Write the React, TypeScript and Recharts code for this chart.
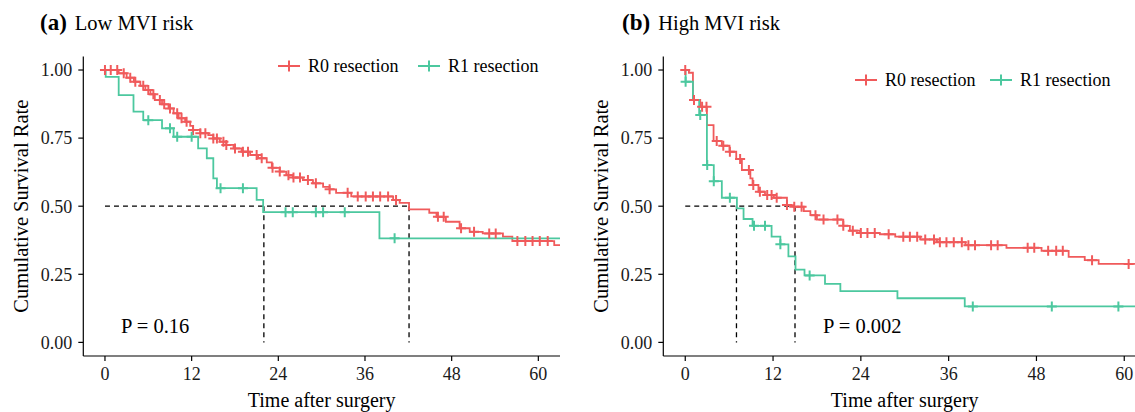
import { LineChart, Line, XAxis, YAxis, ReferenceLine } from "recharts";

const FONT = "'Liberation Serif', 'Times New Roman', serif";
const RED = "#F05A5B";
const GREEN = "#4CC89F";

const groups = ["R0 resection", "R1 resection"];
const monthTicks = [0, 12, 24, 36, 48, 60];
const rateTicks = [0, 0.25, 0.5, 0.75, 1];

// (a) Low MVI risk
const lowR0Time = [0, 1.9, 3.0, 4.0, 4.9, 5.6, 6.3, 6.9, 7.9, 8.8, 9.5, 10.2, 11.1, 11.8, 12.2, 13.2, 14.3, 15.0, 15.9, 16.8, 17.8, 18.9, 20.1, 21.2, 22.4, 23.1, 24.2, 25.1, 26.0, 27.4, 28.8, 30.2, 31.1, 32.0, 34.1, 39.9, 40.8, 42.1, 44.9, 45.9, 47.2, 49.1, 50.5, 52.3, 55.1, 56.4, 62.2, 63];
const lowR0Surv = [1.0, 0.988, 0.972, 0.957, 0.942, 0.927, 0.911, 0.89, 0.874, 0.859, 0.841, 0.823, 0.81, 0.795, 0.78, 0.768, 0.761, 0.749, 0.737, 0.725, 0.712, 0.7, 0.688, 0.676, 0.661, 0.641, 0.627, 0.614, 0.605, 0.596, 0.584, 0.571, 0.562, 0.549, 0.536, 0.523, 0.512, 0.488, 0.476, 0.461, 0.443, 0.419, 0.406, 0.4, 0.388, 0.372, 0.357, 0.357];
const lowR0Censor = [0, 0.8, 1.7, 2.6, 3.5, 4.2, 5.3, 6.0, 6.7, 7.6, 8.2, 9.0, 10.0, 10.6, 11.3, 12.2, 13.2, 13.9, 15.0, 15.5, 16.4, 16.8, 18.0, 19.1, 19.8, 21.0, 21.7, 23.2, 24.2, 25.4, 26.1, 27.0, 28.1, 29.2, 31.1, 33.6, 35.0, 36.1, 37.1, 38.1, 39.2, 40.3, 46.1, 46.9, 49.3, 51.1, 53.2, 54.1, 57.1, 58.2, 59.2, 60.2, 61.3];

const lowR1Time = [0, 0.1, 1.9, 3.95, 5.3, 7.9, 9.5, 12.9, 14.1, 15.0, 15.5, 21.0, 21.9, 38.0, 63];
const lowR1Surv = [1.0, 0.975, 0.908, 0.847, 0.816, 0.786, 0.755, 0.712, 0.676, 0.602, 0.566, 0.523, 0.478, 0.382, 0.382];
const lowR1Censor = [6.0, 9.0, 10.0, 12.0, 16.0, 19.1, 25.0, 26.0, 29.2, 30.2, 33.2, 40.1];

const lowMedians = [22, 42.1];

// (b) High MVI risk
const highR0Time = [0, 0.5, 1.05, 2.05, 2.96, 3.87, 5.0, 6.05, 6.97, 7.74, 8.9, 9.2, 10.0, 10.9, 12.1, 13.9, 14.8, 16.2, 17.1, 18.0, 21.6, 22.5, 23.9, 26.6, 28.7, 32.1, 34.4, 38.3, 43.9, 48.7, 52.4, 54.6, 56.5, 63];
const highR0Surv = [1.0, 0.99, 0.89, 0.865, 0.798, 0.739, 0.722, 0.7, 0.673, 0.633, 0.602, 0.578, 0.553, 0.541, 0.531, 0.504, 0.498, 0.482, 0.467, 0.451, 0.428, 0.41, 0.402, 0.397, 0.388, 0.378, 0.368, 0.357, 0.347, 0.336, 0.314, 0.302, 0.288, 0.288];
const highR0Censor = [0, 1.2, 2.3, 2.9, 4.3, 5.2, 6.1, 7.5, 8.7, 9.3, 10.2, 11.2, 11.8, 12.5, 13.9, 14.9, 15.9, 17.8, 18.9, 20.8, 21.6, 22.9, 24.0, 24.9, 25.9, 27.8, 29.8, 30.7, 31.7, 32.8, 34.0, 34.8, 35.7, 36.7, 37.8, 38.7, 39.6, 41.8, 42.7, 46.8, 47.7, 49.6, 50.7, 51.6, 55.6, 60.6];

const highR1Time = [0, 0.05, 1.05, 1.9, 2.96, 3.9, 5.0, 7.06, 7.97, 9.2, 11.8, 13.0, 14.1, 15.07, 16.3, 19.1, 21.2, 29.0, 38.2, 63];
const highR1Surv = [1.0, 0.957, 0.89, 0.835, 0.651, 0.592, 0.531, 0.492, 0.453, 0.428, 0.388, 0.36, 0.316, 0.267, 0.246, 0.215, 0.188, 0.162, 0.132, 0.132];
const highR1Censor = [0.05, 2.05, 3.0, 3.9, 6.1, 9.4, 10.9, 13.0, 17.0, 39.3, 50.1, 59.2];

const highMedians = [7, 15];

type Pt = { t: number; s: number };

const steps = (times: number[], surv: number[]): Pt[] =>
  times.map((t, i) => ({ t, s: surv[i] }));

// censor marks sit on the step value at their time
const marks = (times: number[], surv: number[], censor: number[]): Pt[] =>
  censor.map((t) => {
    let s = surv[0];
    times.forEach((tt, i) => {
      if (tt <= t) s = surv[i];
    });
    return { t, s };
  });

const plus = (color: string) => (props: any) => {
  const { cx, cy, index } = props;
  if (cx == null || cy == null) return <g key={`n-${index}`} />;
  return (
    <path
      key={`c-${index}`}
      d={`M${cx - 5},${cy}H${cx + 5}M${cx},${cy - 5}V${cy + 5}`}
      stroke={color}
      strokeWidth={2}
      fill="none"
    />
  );
};

const tickStyle = { fill: "#1a1a1a", fontSize: 18, fontFamily: FONT };

function Panel({
  left,
  right,
  r0,
  r1,
  medians,
}: {
  left: number;
  right: number;
  r0: [number[], number[], number[]];
  r1: [number[], number[], number[]];
  medians: number[];
}) {
  const maxMedian = Math.max(...medians);
  return (
    <div style={{ position: "absolute", left, top: 0 }}>
      <LineChart
        width={570}
        height={412}
        margin={{ top: 56.4, right, bottom: 0, left: 0 }}
      >
        <XAxis
          type="number"
          dataKey="t"
          domain={[-3, 63]}
          ticks={monthTicks}
          allowDataOverflow
          height={56}
          tickSize={5}
          tickMargin={6}
          tick={tickStyle}
          axisLine={{ stroke: "#000", strokeWidth: 1.2 }}
          tickLine={{ stroke: "#000", strokeWidth: 1.2 }}
          label={{
            value: "Time after surgery",
            position: "insideBottom",
            offset: 5,
            fill: "#000",
            fontSize: 20,
            fontFamily: FONT,
          }}
        />
        <YAxis
          type="number"
          domain={[-0.05, 1.05]}
          ticks={rateTicks}
          allowDataOverflow
          width={83.3}
          tickSize={5}
          tickMargin={6}
          tick={tickStyle}
          tickFormatter={(v: number) => v.toFixed(2)}
          axisLine={{ stroke: "#000", strokeWidth: 1.2 }}
          tickLine={{ stroke: "#000", strokeWidth: 1.2 }}
          label={{
            value: "Cumulative Survival Rate",
            angle: -90,
            position: "insideLeft",
            offset: 21,
            fill: "#000",
            fontSize: 20.5,
            fontFamily: FONT,
            style: { textAnchor: "middle" },
          }}
        />
        <ReferenceLine
          segment={[
            { x: 0, y: 0.5 },
            { x: maxMedian, y: 0.5 },
          ]}
          stroke="#000"
          strokeWidth={1.3}
          strokeDasharray="5 4"
        />
        {medians.map((m) => (
          <ReferenceLine
            key={m}
            segment={[
              { x: m, y: 0.5 },
              { x: m, y: 0 },
            ]}
            stroke="#000"
            strokeWidth={1.3}
            strokeDasharray="5 4"
          />
        ))}
        <Line
          data={steps(r0[0], r0[1])}
          dataKey="s"
          type="stepAfter"
          stroke={RED}
          strokeWidth={1.8}
          dot={false}
          activeDot={false}
          isAnimationActive={false}
        />
        <Line
          data={marks(r0[0], r0[1], r0[2])}
          dataKey="s"
          stroke="none"
          dot={plus(RED)}
          activeDot={false}
          isAnimationActive={false}
        />
        <Line
          data={steps(r1[0], r1[1])}
          dataKey="s"
          type="stepAfter"
          stroke={GREEN}
          strokeWidth={1.8}
          dot={false}
          activeDot={false}
          isAnimationActive={false}
        />
        <Line
          data={marks(r1[0], r1[1], r1[2])}
          dataKey="s"
          stroke="none"
          dot={plus(GREEN)}
          activeDot={false}
          isAnimationActive={false}
        />
      </LineChart>
    </div>
  );
}

function LegendKey({ x, y, color, label }: { x: number; y: number; color: string; label: string }) {
  return (
    <g>
      <line x1={x} y1={y} x2={x + 22} y2={y} stroke={color} strokeWidth={2} />
      <line x1={x + 11} y1={y - 5.5} x2={x + 11} y2={y + 5.5} stroke={color} strokeWidth={2} />
      <text x={x + 30} y={y + 6} fontSize={18} fontFamily={FONT} fill="#000">
        {label}
      </text>
    </g>
  );
}

export default function App() {
  return (
    <div
      style={{
        position: "absolute",
        left: 0,
        top: 0,
        width: 1135,
        height: 412,
        overflow: "hidden",
        background: "#fff",
        fontFamily: FONT,
      }}
    >
      <Panel
        left={0}
        right={10}
        r0={[lowR0Time, lowR0Surv, lowR0Censor]}
        r1={[lowR1Time, lowR1Surv, lowR1Censor]}
        medians={lowMedians}
      />
      <Panel
        left={580}
        right={3.8}
        r0={[highR0Time, highR0Surv, highR0Censor]}
        r1={[highR1Time, highR1Surv, highR1Censor]}
        medians={highMedians}
      />
      <svg
        width={1135}
        height={412}
        style={{ position: "absolute", left: 0, top: 0, pointerEvents: "none" }}
      >
        <text x={40} y={30} fontFamily={FONT} fill="#000">
          <tspan fontWeight="bold" fontSize={23}>(a)</tspan>
          <tspan dx={8} fontSize={20.5}>Low MVI risk</tspan>
        </text>
        <text x={622} y={30} fontFamily={FONT} fill="#000">
          <tspan fontWeight="bold" fontSize={23}>(b)</tspan>
          <tspan dx={8} fontSize={20.5}>High MVI risk</tspan>
        </text>
        <LegendKey x={278} y={66} color={RED} label={groups[0]} />
        <LegendKey x={418} y={66} color={GREEN} label={groups[1]} />
        <LegendKey x={855} y={80} color={RED} label={groups[0]} />
        <LegendKey x={990} y={80} color={GREEN} label={groups[1]} />
        <text x={121} y={333} fontSize={20.5} fontFamily={FONT} fill="#000">
          P = 0.16
        </text>
        <text x={823} y={333} fontSize={20.5} fontFamily={FONT} fill="#000">
          P = 0.002
        </text>
      </svg>
    </div>
  );
}
